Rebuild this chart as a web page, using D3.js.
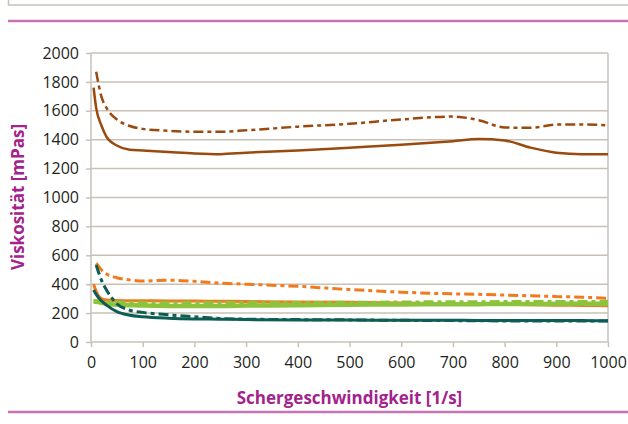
<!DOCTYPE html>
<html><head><meta charset="utf-8">
<script src="https://cdn.jsdelivr.net/npm/d3@7/dist/d3.min.js"></script>
<style>body{margin:0;background:#fff}svg{display:block}</style>
</head><body><svg id="c" width="628" height="424"></svg>
<script>
const shearRate = [5,10,20,30,50,75,100,150,200,250,300,400,500,600,700,750,800,850,900,950,1000];
const brownSolid   = [1760,1620,1500,1420,1360,1330,1325,1315,1305,1300,1310,1325,1345,1365,1390,1405,1395,1345,1310,1300,1300];
const brownDashDot = [null,1870,1700,1620,1540,1495,1475,1462,1455,1455,1465,1490,1510,1540,1560,1535,1485,1482,1505,1505,1500];
const orangeDashDot= [null,545,500,470,445,430,422,428,420,408,400,385,363,345,333,330,325,320,315,310,302];
const orangeSolid  = [400,350,300,290,287,285,285,284,283,282,280,277,275,270,265,262,260,258,255,253,251];
const greenSolid   = [280,278,272,265,258,255,252,250,250,250,252,255,258,260,262,262,263,263,264,264,264];
const greenDashDot = [285,283,280,278,275,273,272,272,272,272,272,272,273,275,277,277,278,278,279,279,280];
const tealSolid    = [360,330,285,255,210,185,175,165,160,158,155,153,152,150,150,149,148,148,148,148,147];
const tealDashDot  = [null,533,430,360,265,220,205,188,175,163,158,155,153,150,148,147,146,146,145,145,145];
const xTicks = [0,100,200,300,400,500,600,700,800,900,1000];
const yTicks = [0,200,400,600,800,1000,1200,1400,1600,1800,2000];

const series = [
  {v: brownSolid, c:"#9b4a0e", w:2.5, d:null},
  {v: brownDashDot, c:"#9b4a0e", w:2.5, d:"10,4,4,4"},
  {v: orangeDashDot, c:"#f07a1c", w:3, d:"10,4,4,4"},
  {v: orangeSolid, c:"#f07a1c", w:3, d:null},
  {v: greenSolid, c:"#8dc33c", w:4.5, d:null},
  {v: greenDashDot, c:"#8dc33c", w:3.5, d:"10,4,4,4"},
  {v: tealSolid, c:"#0d5d55", w:3, d:null},
  {v: tealDashDot, c:"#0d5d55", w:3, d:"10,4,4,4"}
];

const svg = d3.select("#c");
const L=91, R=608, T=53, B=342;
const x = d3.scaleLinear().domain([0,1000]).range([L,R]);
const y = d3.scaleLinear().domain([0,2000]).range([B,T]);
const grid="#c8c1b8", font="'Open Sans', sans-serif", purple="#a2238c", pink="#c873b4";

// top box and separator lines
svg.append("rect").attr("x",8.5).attr("y",-20).attr("width",640).attr("height",25).attr("fill","none").attr("stroke",grid).attr("stroke-width",1.5);
svg.append("line").attr("x1",8).attr("x2",628).attr("y1",21).attr("y2",21).attr("stroke",pink).attr("stroke-width",2.5);
svg.append("line").attr("x1",8).attr("x2",628).attr("y1",412).attr("y2",412).attr("stroke",pink).attr("stroke-width",2.5);

// gridlines
svg.append("g").selectAll("line").data(yTicks.filter(t=>t>0)).join("line")
  .attr("x1",L).attr("x2",R).attr("y1",d=>y(d)).attr("y2",d=>y(d)).attr("stroke",grid).attr("stroke-width",1.5);
svg.append("line").attr("x1",R).attr("x2",R).attr("y1",T).attr("y2",B).attr("stroke",grid).attr("stroke-width",1.5);

// axes
const yAxis = svg.append("g").attr("transform",`translate(${L},0)`)
  .call(d3.axisLeft(y).tickValues(yTicks).tickFormat(d3.format("d")).tickSize(5).tickPadding(7));
const xAxis = svg.append("g").attr("transform",`translate(0,${B})`)
  .call(d3.axisBottom(x).tickValues(xTicks).tickFormat(d3.format("d")).tickSize(5).tickPadding(10));
[yAxis,xAxis].forEach(a=>{
  a.selectAll("path,line").attr("stroke",grid).attr("stroke-width",1.5);
  a.selectAll("text").attr("font-family",font).attr("font-size",16).attr("fill","#231f20");
});
yAxis.select("path").attr("d",`M0,${T}V${B}`);
xAxis.select("path").attr("d",`M${L},0H${R}`);

// lines
const line = d3.line().defined(d=>d[1]!=null).x(d=>x(d[0])).y(d=>y(d[1])).curve(d3.curveMonotoneX);
series.forEach(s=>{
  svg.append("path").datum(shearRate.map((r,i)=>[r,s.v[i]]))
    .attr("d",line).attr("fill","none").attr("stroke",s.c).attr("stroke-width",s.w)
    .attr("stroke-dasharray",s.d).attr("stroke-linejoin","round");
});

// titles
svg.append("text").attr("x",(L+R)/2).attr("y",404).attr("text-anchor","middle")
  .attr("font-family",font).attr("font-weight","bold").attr("font-size",17).attr("fill",purple)
  .text("Schergeschwindigkeit [1/s]");
svg.append("text").attr("transform","translate(24,197) rotate(-90)").attr("text-anchor","middle")
  .attr("font-family",font).attr("font-weight","bold").attr("font-size",17).attr("fill",purple)
  .text("Viskosität [mPas]");
</script></body></html>
